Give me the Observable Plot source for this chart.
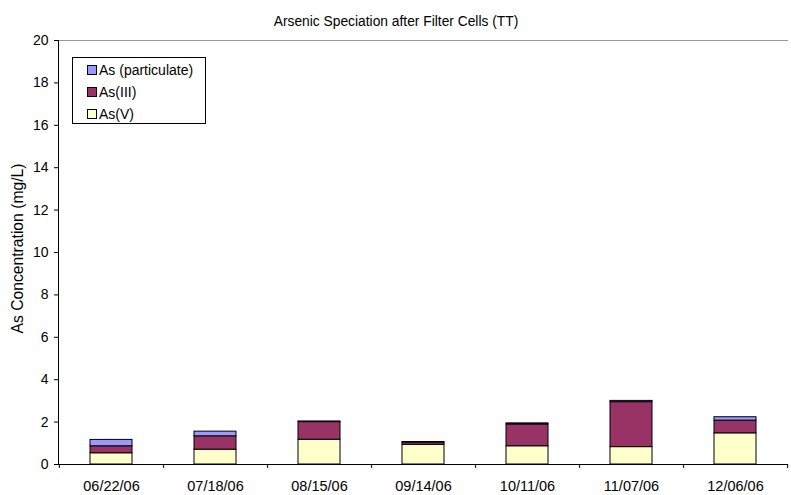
<!DOCTYPE html>
<html>
<head>
<meta charset="utf-8">
<script src="https://cdn.jsdelivr.net/npm/d3@7"></script>
<script src="https://cdn.jsdelivr.net/npm/@observablehq/plot@0.6"></script>
<style>
  body { margin: 0; background: #fff; font-family: "Liberation Sans", Arial, sans-serif; }
  #wrap { position: relative; width: 791px; height: 495px; }
  #legend { position: absolute; left: 72px; top: 57px; width: 134px; height: 67px; border: 1px solid #000; background: #fff; font-size: 14px; box-sizing: border-box; padding-top: 1px; }
  #legend .row { display: flex; align-items: center; height: 22px; padding-left: 14px; }
  #legend .sw { width: 8px; height: 8px; border: 1px solid #000; margin-right: 2px; }
</style>
</head>
<body>
<div id="wrap"></div>
<script>
const title = "Arsenic Speciation after Filter Cells (TT)";
const yLabel = "As Concentration (mg/L)";
const dates = ["06/22/06", "07/18/06", "08/15/06", "09/14/06", "10/11/06", "11/07/06", "12/06/06"];
const seriesNames = ["As(V)", "As(III)", "As (particulate)"];
const seriesColors = ["#FFFFCC", "#993366", "#9999FF"];
const asV = [0.53, 0.70, 1.17, 0.93, 0.86, 0.82, 1.47];
const asIII = [0.33, 0.63, 0.83, 0.10, 1.03, 2.12, 0.60];
const asPart = [0.30, 0.22, 0.03, 0.03, 0.05, 0.06, 0.16];
const yTicks = [0, 2, 4, 6, 8, 10, 12, 14, 16, 18, 20];

const seriesValues = [asV, asIII, asPart];
const data = [];
dates.forEach((d, i) => {
  seriesNames.forEach((s, k) => data.push({date: d, series: s, value: seriesValues[k][i]}));
});

const width = 791, height = 495;
const mL = 58, mR = 3;
const step = (width - mL - mR) / dates.length;

const chart = Plot.plot({
  width, height,
  marginLeft: mL, marginRight: mR, marginTop: 40, marginBottom: 31,
  style: {fontFamily: "'Liberation Sans', Arial, sans-serif", fontSize: "14px", color: "#000", background: "#fff"},
  x: {domain: dates, paddingInner: 0.6, paddingOuter: 0.3, label: null},
  y: {domain: [0, 20], label: null},
  color: {domain: seriesNames, range: seriesColors},
  marks: [
    Plot.ruleY([20], {stroke: "#999", strokeWidth: 1}),
    Plot.barY(data, {x: "date", y: "value", z: "series", fill: "series", stroke: "#000", strokeWidth: 1, order: seriesNames}),
    Plot.ruleY([0], {stroke: "#000"}),
    Plot.frame({anchor: "left", stroke: "#000"}),
    Plot.axisY({ticks: yTicks, tickSize: 4, tickPadding: 6, fontSize: 14, label: null}),
    Plot.text([yLabel], {frameAnchor: "left", textAnchor: "middle", dx: -41, dy: -4, rotate: -90, fontSize: 15.7, text: d => d}),
    Plot.axisX({tickSize: 0, tickPadding: 16, fontSize: 14.5, label: null}),
    Plot.axisX({tickSize: 4, dx: step / 2, text: null, label: null}),
    Plot.axisX([dates[0]], {tickSize: 4, dx: -step / 2, text: null, label: null}),
    Plot.text([title], {frameAnchor: "top", dx: (mR - mL) / 2, dy: -24, fontSize: 13.8, text: d => d})
  ]
});
const wrap = document.getElementById("wrap");
wrap.appendChild(chart);

const legend = document.createElement("div");
legend.id = "legend";
[2, 1, 0].forEach(k => {
  const row = document.createElement("div");
  row.className = "row";
  const sw = document.createElement("div");
  sw.className = "sw";
  sw.style.background = seriesColors[k];
  const t = document.createElement("span");
  t.textContent = seriesNames[k];
  row.appendChild(sw); row.appendChild(t);
  legend.appendChild(row);
});
wrap.appendChild(legend);
</script>
</body>
</html>
